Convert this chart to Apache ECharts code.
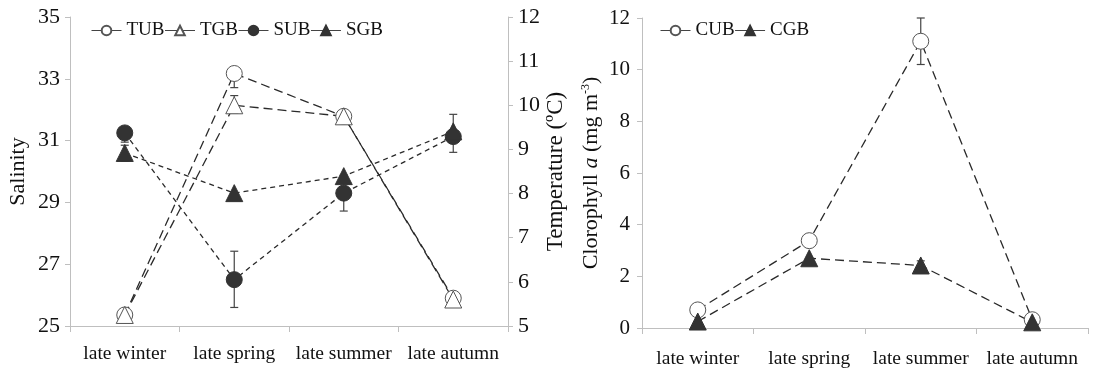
<!DOCTYPE html>
<html>
<head>
<meta charset="utf-8">
<script src="https://cdn.jsdelivr.net/npm/echarts@6/dist/echarts.min.js"></script>
<style>
  html, body { margin: 0; padding: 0; background: #fff; }
  #main { width: 1102px; height: 369px; }
</style>
</head>
<body>
<div id="main"></div>
<script>
// seasons
var seasons = ['late winter', 'late spring', 'late summer', 'late autumn'];

// left panel: temperature (right axis) and salinity (left axis)
var TUB = [5.25, 10.72, 9.75, 5.63];
var TGB = [5.25, 10.0, 9.75, 5.6];
var SUB = [31.25, 26.5, 29.3, 31.13];
var SGB = [30.6, 29.3, 29.85, 31.3];
// error bars [index, low, high]
var errTUB = [[1, 10.4, 10.72]];
var errTGB = [[1, 9.82, 10.22]];
var errSUB = [[0, 30.95, 31.25], [1, 25.6, 27.42], [2, 28.72, 29.88], [3, 30.62, 31.13]];
var errSGB = [[0, 30.33, 30.85], [3, 31.3, 31.85]];

// right panel: chlorophyll
var CUB = [0.7, 3.38, 11.1, 0.32];
var CGB = [0.25, 2.7, 2.42, 0.22];
var errCUB = [[2, 10.2, 12.0]];
var errCGB = [[2, 2.25, 2.6]];

var salTicks = [25, 35, 2];
var tempTicks = [5, 12, 1];
var chlTicks = [0, 12, 2];

var FONT = '"Liberation Serif", "Times New Roman", serif';
var AX = '#bfbfbf';
var LINE = '#2a2a2a';

var chart = echarts.init(document.getElementById('main'));

function errBar(name, data, xi, yi) {
  return {
    name: name,
    type: 'custom',
    xAxisIndex: xi,
    yAxisIndex: yi,
    z: 1,
    silent: true,
    data: data,
    renderItem: function (params, api) {
      var lo = api.coord([api.value(0), api.value(1)]);
      var hi = api.coord([api.value(0), api.value(2)]);
      var w = 4;
      var st = { stroke: '#444', lineWidth: 1.2 };
      return {
        type: 'group',
        children: [
          { type: 'line', shape: { x1: lo[0], y1: lo[1], x2: hi[0], y2: hi[1] }, style: st },
          { type: 'line', shape: { x1: lo[0] - w, y1: lo[1], x2: lo[0] + w, y2: lo[1] }, style: st },
          { type: 'line', shape: { x1: hi[0] - w, y1: hi[1], x2: hi[0] + w, y2: hi[1] }, style: st }
        ]
      };
    }
  };
}

function lineSeries(name, data, xi, yi, symbol, filled, dash) {
  return {
    name: name,
    type: 'line',
    xAxisIndex: xi,
    yAxisIndex: yi,
    data: data,
    symbol: symbol,
    symbolSize: symbol === 'circle' ? 16 : 17,
    z: 3,
    lineStyle: { color: LINE, width: 1.3, type: dash },
    itemStyle: filled
      ? { color: '#333', borderColor: '#333', borderWidth: 1 }
      : { color: '#fff', borderColor: '#555', borderWidth: 1 },
    emphasis: { disabled: true }
  };
}

var catAxis = function (gi, margin) {
  return {
    type: 'category',
    gridIndex: gi,
    data: seasons,
    boundaryGap: true,
    axisLine: { lineStyle: { color: AX, width: 1 } },
    axisTick: { show: true, alignWithLabel: false, length: 6, lineStyle: { color: AX } },
    axisLabel: { color: '#111', fontFamily: FONT, fontSize: 19.5, margin: margin, interval: 0 },
    splitLine: { show: false }
  };
};

var valAxis = function (gi, t, pos, name, gap, nameSize, labSize, labMargin) {
  return {
    type: 'value',
    gridIndex: gi,
    position: pos,
    min: t[0], max: t[1], interval: t[2],
    name: name,
    nameLocation: 'middle',
    nameGap: gap,
    nameRotate: 90,
    nameTextStyle: { color: '#111', fontFamily: FONT, fontSize: nameSize },
    axisLine: { show: true, lineStyle: { color: AX, width: 1 } },
    axisTick: { show: true, length: 5, lineStyle: { color: AX } },
    axisLabel: { color: '#111', fontFamily: FONT, fontSize: labSize, margin: labMargin },
    splitLine: { show: false }
  };
};

var chlAxis = valAxis(1, chlTicks, 'left', '{n|Clorophyll }{i|a}{n| (mg m}{s|-3}{n|)}', 40, 22, 21, 12);
chlAxis.nameTextStyle.rich = {
  n: { fontFamily: FONT, fontSize: 22, color: '#111' },
  i: { fontFamily: FONT, fontSize: 22, fontStyle: 'italic', color: '#111' },
  s: { fontFamily: FONT, fontSize: 12, color: '#111', verticalAlign: 'top', padding: [0, 0, 9, 0] }
};

var legendText = { fontFamily: FONT, fontSize: 19, color: '#111' };
var legendLine = { type: 'solid', width: 1, color: '#444' };

var option = {
  backgroundColor: '#fff',
  animation: false,
  grid: [
    { left: 70, right: 594, top: 17, bottom: 43 },
    { left: 642, right: 14, top: 18, bottom: 41 }
  ],
  legend: [
    {
      data: ['TUB', 'TGB', 'SUB', 'SGB'],
      left: 86, top: 16,
      itemWidth: 30, itemHeight: 12, itemGap: 0,
      lineStyle: legendLine,
      textStyle: legendText
    },
    {
      data: ['CUB', 'CGB'],
      left: 655, top: 16,
      itemWidth: 30, itemHeight: 12, itemGap: 0,
      lineStyle: legendLine,
      textStyle: legendText
    }
  ],
  xAxis: [catAxis(0, 18), catAxis(1, 21)],
  yAxis: [
    valAxis(0, salTicks, 'left', 'Salinity', 41, 22, 22, 10),
    valAxis(0, tempTicks, 'right', 'Temperature (ºC)', 36, 23, 22, 10),
    chlAxis
  ],
  series: [
    errBar('eSUB', errSUB, 0, 0),
    errBar('eSGB', errSGB, 0, 0),
    errBar('eTUB', errTUB, 0, 1),
    errBar('eTGB', errTGB, 0, 1),
    lineSeries('TUB', TUB, 0, 1, 'circle', false, [9, 5]),
    lineSeries('TGB', TGB, 0, 1, 'triangle', false, [9, 5]),
    lineSeries('SUB', SUB, 0, 0, 'circle', true, [5, 4]),
    lineSeries('SGB', SGB, 0, 0, 'triangle', true, [5, 4]),
    errBar('eCUB', errCUB, 1, 2),
    errBar('eCGB', errCGB, 1, 2),
    lineSeries('CUB', CUB, 1, 2, 'circle', false, [9, 5]),
    lineSeries('CGB', CGB, 1, 2, 'triangle', true, [9, 5])
  ]
};

chart.setOption(option);
</script>
</body>
</html>
